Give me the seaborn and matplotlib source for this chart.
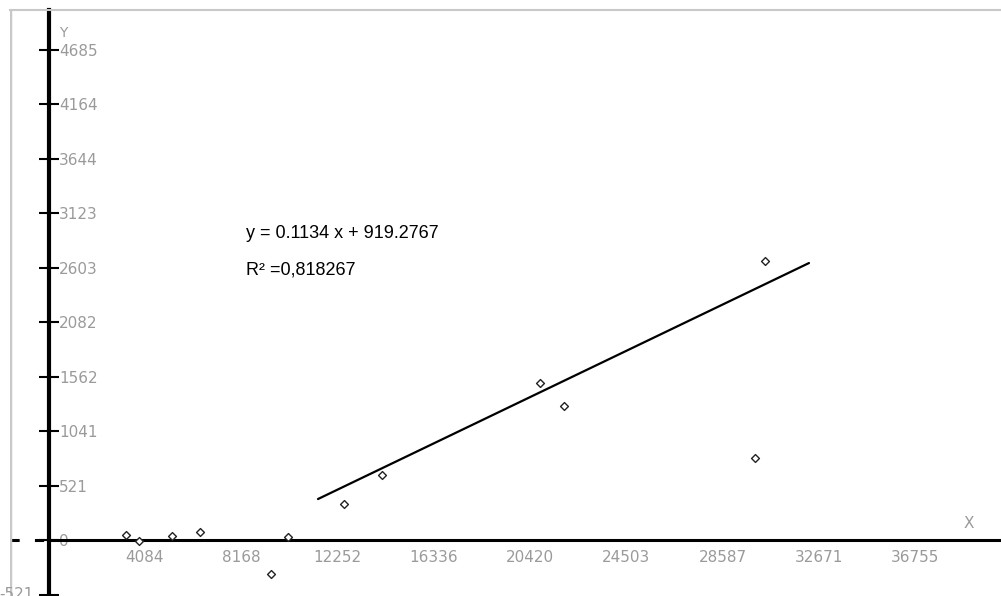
import matplotlib
matplotlib.use('Agg')
import matplotlib.pyplot as plt
import seaborn as sns
import pandas as pd

# scatter points
xValues = [3280, 3830, 5230, 6420, 9430, 10150, 12530, 14140, 20840, 21860, 29970, 30390]
yValues = [48, -5, 38, 76, -325, 29, 344, 621, 1501, 1281, 784, 2667]

# fitted line end points
lineX = [11424, 32257]
lineY = [392, 2648]

xTicks = [4084, 8168, 12252, 16336, 20420, 24503, 28587, 32671, 36755]
yTicks = [-521, 0, 521, 1041, 1562, 2082, 2603, 3123, 3644, 4164, 4685]

eqText = 'y = 0.1134 x + 919.2767'
r2Text = 'R\u00b2 =0,818267'

labelGray = '#9a9a9a'
frameGray = '#c8c8c8'

sns.set_style('white')
plt.rcParams['font.family'] = ['DejaVu Sans']

fig = plt.figure(figsize=(10.01, 5.96), dpi=100)
ax = fig.add_axes([10 / 1001, 0, 991 / 1001, 586 / 596])
ax.set_xlim(-1644, 40404)
ax.set_ylim(-535, 5067)

df = pd.DataFrame({'x': xValues, 'y': yValues})
sns.scatterplot(data=df, x='x', y='y', marker='D', s=16, facecolor='white',
                edgecolor='#222222', linewidth=1.0, ax=ax, zorder=5)
sns.lineplot(x=lineX, y=lineY, color='black', linewidth=1.6, ax=ax)

# axes crossing at zero
for side in ['left', 'bottom', 'right']:
    ax.spines[side].set_position(('data', 0))
ax.spines['left'].set_color('black')
ax.spines['left'].set_linewidth(3)
ax.spines['bottom'].set_color('black')
ax.spines['bottom'].set_linewidth(2.2)
ax.spines['bottom'].set_bounds(0, 40404)
ax.spines['right'].set_visible(False)
ax.spines['top'].set_color(frameGray)
ax.spines['top'].set_linewidth(1.5)
ax.plot([-1644, 0], [0, 0], color='black', linewidth=2.2, linestyle=(0, (3, 5)), clip_on=False)
ax.axvline(-1644, color=frameGray, linewidth=2.5)

ax.set_xticks(xTicks)
ax.set_xticklabels([str(v) for v in xTicks])
ax.set_yticks(yTicks)
ax.set_yticklabels(['' if v < 0 else str(v) for v in yTicks])
ax.tick_params(axis='x', direction='inout', length=8, width=1.5, color='black',
               labelcolor=labelGray, labelsize=11, pad=3)
ax.tick_params(axis='y', direction='inout', length=14, width=1.5, color='black',
               labelcolor=labelGray, labelsize=11, left=True, right=False,
               labelleft=False, labelright=True, pad=0.5)
ax.set_xlabel('')
ax.set_ylabel('')

# clipped label of the -521 tick and the axis names
ax.text(-650, -521, '-521', color=labelGray, fontsize=11, ha='right', va='center')
ax.text(600, 4850, 'Y', color=labelGray, fontsize=10, ha='center', va='center')
ax.text(39050, 155, 'X', color=labelGray, fontsize=11, ha='center', va='center')

ax.text(8370, 2930, eqText, fontsize=13, family='Liberation Sans', color='black', va='center')
ax.text(8370, 2580, r2Text, fontsize=13, family='Liberation Sans', color='black', va='center')

fig.savefig('out.png', dpi=100)
